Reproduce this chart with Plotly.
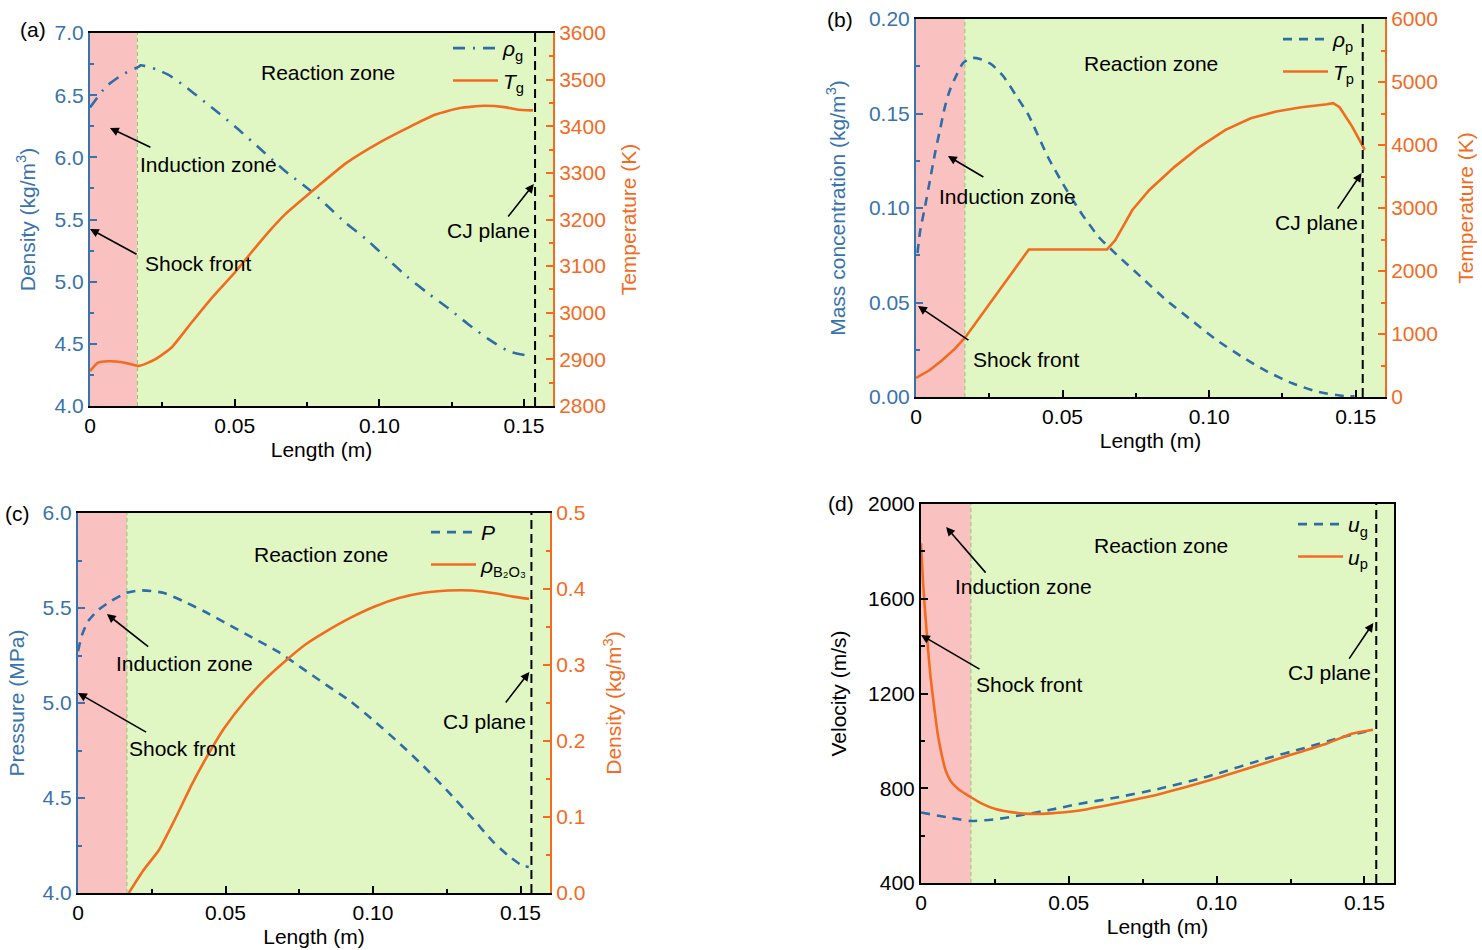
import plotly.graph_objects as go

# ---------------- data ----------------
# (a) gas density and temperature
a_x_rho = [0, 0.0056, 0.0112, 0.0169, 0.0175, 0.0232, 0.0281, 0.0351, 0.0421, 0.05, 0.0604, 0.0674,
           0.0758, 0.0815, 0.0885, 0.0955, 0.1025, 0.1096, 0.1166, 0.1236, 0.1306, 0.1376, 0.1447, 0.1503]
a_rho_g = [6.40, 6.57, 6.665, 6.73, 6.74, 6.705, 6.65, 6.53, 6.40, 6.25, 6.035, 5.89,
           5.74, 5.62, 5.47, 5.34, 5.19, 5.04, 4.91, 4.79, 4.66, 4.54, 4.44, 4.41]
a_x_T = [0, 0.0028, 0.0063, 0.0112, 0.0169, 0.0225, 0.0281, 0.0351, 0.0421, 0.05, 0.0604, 0.0674,
         0.0787, 0.0885, 0.0997, 0.1096, 0.1194, 0.1278, 0.1362, 0.1433, 0.1475, 0.1531]
a_T_g = [2875, 2893, 2896, 2894, 2886, 2900, 2925, 2979, 3032, 3086, 3164, 3211,
         3271, 3321, 3364, 3396, 3425, 3439, 3444, 3441, 3436, 3434]

# (b) particle mass concentration and temperature
b_x_rho = [0.0005, 0.0014, 0.0031, 0.0048, 0.0065, 0.0082, 0.0099, 0.0116, 0.0139, 0.0161, 0.019,
           0.0218, 0.0258, 0.0298, 0.0343, 0.0383, 0.045, 0.0508, 0.0565, 0.0623, 0.068, 0.0767,
           0.0854, 0.094, 0.1027, 0.1113, 0.12, 0.1286, 0.1373, 0.146, 0.1496]
b_rho_p = [0.0762, 0.0877, 0.1009, 0.115, 0.1291, 0.1415, 0.1538, 0.1626, 0.1706, 0.1768, 0.1794,
           0.1789, 0.1759, 0.1697, 0.1591, 0.1494, 0.127, 0.111, 0.097, 0.0848, 0.076, 0.0636,
           0.0512, 0.0406, 0.030, 0.0212, 0.0133, 0.0071, 0.0027, 0.0005, 0.0004]
b_x_T = [0, 0.0046, 0.0089, 0.0133, 0.0169, 0.0219, 0.0277, 0.0335, 0.0385, 0.0652, 0.068,
         0.0738, 0.0796, 0.0883, 0.0969, 0.1056, 0.1142, 0.1229, 0.1315, 0.1402, 0.1423,
         0.1445, 0.1488, 0.1531]
b_T_p = [302, 424, 583, 768, 954, 1272, 1643, 2014, 2342, 2342, 2491,
         2968, 3286, 3657, 3975, 4240, 4425, 4531, 4600, 4648, 4664,
         4600, 4293, 3922]

# (c) pressure and B2O3 density
c_x_P = [0, 0.0014, 0.0034, 0.0069, 0.011, 0.0165, 0.0213, 0.0289, 0.0358, 0.0427, 0.051,
         0.0592, 0.0675, 0.0758, 0.084, 0.0923, 0.1005, 0.1088, 0.1171, 0.1253, 0.1336,
         0.1405, 0.146, 0.15, 0.1528]
c_P = [5.273, 5.36, 5.43, 5.49, 5.535, 5.58, 5.593, 5.58, 5.535, 5.483, 5.413,
       5.343, 5.273, 5.185, 5.097, 5.01, 4.904, 4.79, 4.668, 4.536, 4.396,
       4.273, 4.195, 4.15, 4.137]
c_x_rho = [0.0172, 0.022, 0.0275, 0.0331, 0.0386, 0.0441, 0.0496, 0.0565, 0.0634, 0.0702,
           0.0771, 0.084, 0.0923, 0.1006, 0.1088, 0.1171, 0.1253, 0.1336, 0.1419, 0.1474, 0.1529]
c_rho_B2O3 = [0.0, 0.029, 0.057, 0.099, 0.143, 0.182, 0.217, 0.252, 0.281, 0.305,
              0.327, 0.344, 0.362, 0.377, 0.388, 0.395, 0.398, 0.398, 0.394, 0.390, 0.387]

# (d) gas and particle velocity
d_x_ug = [0, 0.009, 0.0169, 0.0252, 0.0322, 0.0438, 0.053, 0.0656, 0.0799, 0.0942, 0.0999,
          0.1156, 0.13, 0.1414, 0.1529]
d_u_g = [698, 677, 662, 669, 683, 709, 733, 760, 796, 840, 860, 921, 971, 1012, 1047]
d_x_up = [0, 0.0007, 0.0015, 0.0023, 0.0032, 0.0044, 0.0056, 0.0065, 0.0073, 0.0081, 0.009,
          0.0101, 0.0113, 0.0127, 0.0142, 0.0169, 0.0206, 0.0252, 0.031, 0.0368, 0.0438,
          0.053, 0.0656, 0.0799, 0.0999, 0.1228, 0.1371, 0.1457, 0.1529]
d_u_p = [1834, 1666, 1526, 1400, 1273, 1147, 1034, 972, 925, 885, 855,
         830, 812, 796, 783, 762, 735, 712, 698, 692, 694,
         705, 735, 773, 842, 932, 988, 1030, 1047]

induction_end = [0.0164, 0.0167, 0.0166, 0.0169]
cj_plane = [0.1538, 0.1524, 0.1537, 0.154]

x_tickvals = [0, 0.05, 0.10, 0.15]
x_ticktext = ["0", "0.05", "0.10", "0.15"]

# ---------------- styling ----------------
BLUE = "#2F6DA6"
BLUE_T = "#3873AC"
ORANGE = "#F26B1F"
PINK = "#FAC1C1"
GREEN = "#E1F7C3"
FONT = "Liberation Sans, Arial, sans-serif"
W, H = 1482, 950
FS = 21

def px_dom(x0, x1):
    return [x0 / W, x1 / W]

def py_dom(y_top, y_bot):
    return [1 - y_bot / H, 1 - y_top / H]

fig = go.Figure()

def add(x, y, xa, ya, name, color, dash, leg, grp, shape="spline", smoothing=0.6):
    line = dict(color=color, width=2.6)
    if dash:
        line["dash"] = dash
    if shape == "spline":
        line["shape"] = "spline"
        line["smoothing"] = smoothing
    fig.add_trace(go.Scatter(x=x, y=y, xaxis=xa, yaxis=ya, name=name, mode="lines", line=line,
                             legend=leg, legendgroup=grp, hoverinfo="skip"))

add(a_x_rho, a_rho_g, "x", "y", "<i>ρ</i><sub>g</sub>", BLUE, "12px,8px,2px,8px", "legend", "a1")
add(a_x_T, a_T_g, "x", "y2", "<i>T</i><sub>g</sub>", ORANGE, None, "legend", "a2", smoothing=0.5)
add(b_x_rho, b_rho_p, "x2", "y3", "<i>ρ</i><sub>p</sub>", BLUE, "9px,7px", "legend2", "b1")
add(b_x_T, b_T_p, "x2", "y4", "<i>T</i><sub>p</sub>", ORANGE, None, "legend2", "b2", shape="linear")
add(c_x_P, c_P, "x3", "y5", "<i>P</i>", BLUE, "9px,7px", "legend3", "c1")
add(c_x_rho, c_rho_B2O3, "x3", "y6", "<i>ρ</i><sub>B₂O₃</sub>", ORANGE, None, "legend3", "c2", smoothing=0.5)
add(d_x_ug, d_u_g, "x4", "y7", "<i>u</i><sub>g</sub>", BLUE, "9px,7px", "legend4", "d1")
add(d_x_up, d_u_p, "x4", "y7", "<i>u</i><sub>p</sub>", ORANGE, None, "legend4", "d2", smoothing=0.4)

tickfont_blue = dict(family=FONT, size=FS, color=BLUE_T)
tickfont_orange = dict(family=FONT, size=FS, color=ORANGE)
tickfont_black = dict(family=FONT, size=FS, color="black")

def xaxis(dom, anchor):
    return dict(domain=dom, anchor=anchor, range=[0, 0.16], tickvals=x_tickvals, ticktext=x_ticktext,
                ticks="inside", ticklen=7, tickwidth=1.5, tickcolor="black", automargin=False,
                minor=dict(tickvals=[0.025, 0.075, 0.125], ticks="inside", ticklen=4, tickcolor="black"),
                showline=True, linecolor="black", linewidth=2, mirror=True, showgrid=False, zeroline=False,
                tickfont=tickfont_black,
                title=dict(text="Length (m)", font=dict(family=FONT, size=FS, color="black"), standoff=6))

def yleft(dom, anchor, rng, dtick, fmt, title, color, tfont, minor_dt, so):
    return dict(domain=dom, anchor=anchor, range=rng, dtick=dtick, tickformat=fmt, automargin=False,
                ticks="inside", ticklen=7, tickwidth=1.5, tickcolor=color,
                minor=dict(dtick=minor_dt, ticks="inside", ticklen=4, tickcolor=color),
                showline=True, linecolor=color, linewidth=2, showgrid=False, zeroline=False,
                tickfont=tfont,
                title=dict(text=title, font=dict(family=FONT, size=FS, color=color), standoff=so))

def yright(overlay, anchor, rng, dtick, fmt, title, minor_dt, so):
    return dict(overlaying=overlay, anchor=anchor, side="right", range=rng, dtick=dtick, tickformat=fmt,
                ticks="inside", ticklen=7, tickwidth=1.5, tickcolor=ORANGE, automargin=False,
                minor=dict(dtick=minor_dt, ticks="inside", ticklen=4, tickcolor=ORANGE),
                showline=True, linecolor=ORANGE, linewidth=2, showgrid=False, zeroline=False,
                tickfont=tickfont_orange,
                title=dict(text=title, font=dict(family=FONT, size=FS, color=ORANGE), standoff=so))

dom_a = (px_dom(90, 553), py_dom(33, 406))
dom_b = (px_dom(916, 1385), py_dom(19, 397))
dom_c = (px_dom(78, 550), py_dom(513, 893))
dom_d = (px_dom(921, 1394), py_dom(504, 883))

layout = dict(
    width=W, height=H, margin=dict(l=0, r=0, t=0, b=0, autoexpand=False),
    paper_bgcolor="white", plot_bgcolor="white",
    font=dict(family=FONT, size=FS, color="black"),
    xaxis=xaxis(dom_a[0], "y"),
    yaxis=yleft(dom_a[1], "x", [4, 7], 0.5, ".1f", "Density (kg/m<sup>3</sup>)", BLUE_T, tickfont_blue, 0.25, 13),
    yaxis2=yright("y", "x", [2800, 3600], 100, "d", "Temperature (K)", 50, 16),
    xaxis2=xaxis(dom_b[0], "y3"),
    yaxis3=yleft(dom_b[1], "x2", [0, 0.2], 0.05, ".2f", "Mass concentration (kg/m<sup>3</sup>)", BLUE_T, tickfont_blue, 0.025, 18),
    yaxis4=yright("y3", "x2", [0, 6000], 1000, "d", "Temperature (K)", 500, 21),
    xaxis3=xaxis(dom_c[0], "y5"),
    yaxis5=yleft(dom_c[1], "x3", [4, 6], 0.5, ".1f", "Pressure (MPa)", BLUE_T, tickfont_blue, 0.25, 12),
    yaxis6=yright("y5", "x3", [0, 0.5], 0.1, ".1f", "Density (kg/m<sup>3</sup>)", 0.05, 22),
    xaxis4=xaxis(dom_d[0], "y7"),
    yaxis7=yleft(dom_d[1], "x4", [400, 2000], 400, "d", "Velocity (m/s)", "black", tickfont_black, 200, 16),
)
layout["yaxis7"]["mirror"] = True

legend_common = dict(bgcolor="rgba(0,0,0,0)", font=dict(family=FONT, size=FS, color="black"),
                     xanchor="left", yanchor="top", itemwidth=45, tracegroupgap=2)
layout["legend"] = dict(x=448 / W, y=1 - 28 / H, **legend_common)
layout["legend2"] = dict(x=1278 / W, y=1 - 19 / H, **legend_common)
layout["legend3"] = dict(x=426 / W, y=1 - 512 / H, **legend_common)
layout["legend4"] = dict(x=1293 / W, y=1 - 504 / H, **legend_common)
fig.update_layout(**layout)

# zones and CJ lines
panels = [("x", "y"), ("x2", "y3"), ("x3", "y5"), ("x4", "y7")]
for (xr, yr), ie, cj in zip(panels, induction_end, cj_plane):
    fig.add_shape(type="rect", xref=xr, yref=yr + " domain", x0=0, x1=ie, y0=0, y1=1,
                  fillcolor=PINK, line_width=0, layer="below")
    fig.add_shape(type="rect", xref=xr, yref=yr + " domain", x0=ie, x1=0.16, y0=0, y1=1,
                  fillcolor=GREEN, line_width=0, layer="below")
    fig.add_shape(type="line", xref=xr, yref=yr + " domain", x0=ie, x1=ie, y0=0, y1=1,
                  line=dict(color="#8CCB6A", width=1, dash="4px,3px"), layer="below")
    fig.add_shape(type="line", xref=xr, yref=yr + " domain", x0=cj, x1=cj, y0=0, y1=1,
                  line=dict(color="black", width=2, dash="9px,5px"))

ann_font = dict(family=FONT, size=FS, color="black")
texts = [
    ("x", "y", "Reaction zone", 0.0824, 6.68, "center"),
    ("x", "y", "Induction zone", 0.0166, 5.94, "left"),
    ("x", "y", "Shock front", 0.0183, 5.15, "left"),
    ("x", "y", "CJ plane", 0.1528, 5.41, "right"),
    ("x2", "y3", "Reaction zone", 0.0801, 0.1767, "center"),
    ("x2", "y3", "Induction zone", 0.0072, 0.1063, "left"),
    ("x2", "y3", "Shock front", 0.0187, 0.0201, "left"),
    ("x2", "y3", "CJ plane", 0.1513, 0.0921, "right"),
    ("x3", "y5", "Reaction zone", 0.0824, 5.784, "center"),
    ("x3", "y5", "Induction zone", 0.0122, 5.21, "left"),
    ("x3", "y5", "Shock front", 0.0166, 4.763, "left"),
    ("x3", "y5", "CJ plane", 0.1527, 4.905, "right"),
    ("x4", "y7", "Reaction zone", 0.0812, 1823, "center"),
    ("x4", "y7", "Induction zone", 0.0108, 1650, "left"),
    ("x4", "y7", "Shock front", 0.0179, 1240, "left"),
    ("x4", "y7", "CJ plane", 0.153, 1287, "right"),
]
for xr, yr, t, x, y, anc in texts:
    fig.add_annotation(xref=xr, yref=yr, x=x, y=y, text=t, showarrow=False, xanchor=anc,
                       yanchor="middle", font=ann_font)

arrows = [
    ("x", "y", 0.0069, 6.236, 0.0214, 6.075),
    ("x", "y", 0.0, 5.424, 0.0166, 5.214),
    ("x", "y", 0.1534, 5.785, 0.1441, 5.512),
    ("x2", "y3", 0.0109, 0.1275, 0.0235, 0.1159),
    ("x2", "y3", 0.0007, 0.0481, 0.0184, 0.0296),
    ("x2", "y3", 0.152, 0.1185, 0.1435, 0.0989),
    ("x3", "y5", 0.0098, 5.468, 0.0243, 5.29),
    ("x3", "y5", 0.0, 5.053, 0.0236, 4.842),
    ("x3", "y5", 0.153, 5.163, 0.1446, 4.995),
    ("x4", "y7", 0.0085, 1903, 0.0223, 1704),
    ("x4", "y7", 0.0, 1447, 0.0203, 1299),
    ("x4", "y7", 0.153, 1498, 0.1445, 1341),
]
for xr, yr, hx, hy, tx, ty in arrows:
    fig.add_annotation(xref=xr, yref=yr, x=hx, y=hy, ax=tx, ay=ty, axref=xr, ayref=yr,
                       text="", showarrow=True, arrowhead=2, arrowsize=1.1, arrowwidth=1.6,
                       arrowcolor="black", standoff=0, startstandoff=0)

for lab, px, py in [("(a)", 33, 30), ("(b)", 840, 19), ("(c)", 17, 513), ("(d)", 841, 503)]:
    fig.add_annotation(xref="paper", yref="paper", x=px / W, y=1 - py / H, text=lab, showarrow=False,
                       xanchor="center", yanchor="middle", font=dict(family=FONT, size=FS, color="black"))

fig.write_html("out.html", config={"displayModeBar": False},
               post_script="document.body.style.margin='0';document.body.style.overflow='hidden';")
